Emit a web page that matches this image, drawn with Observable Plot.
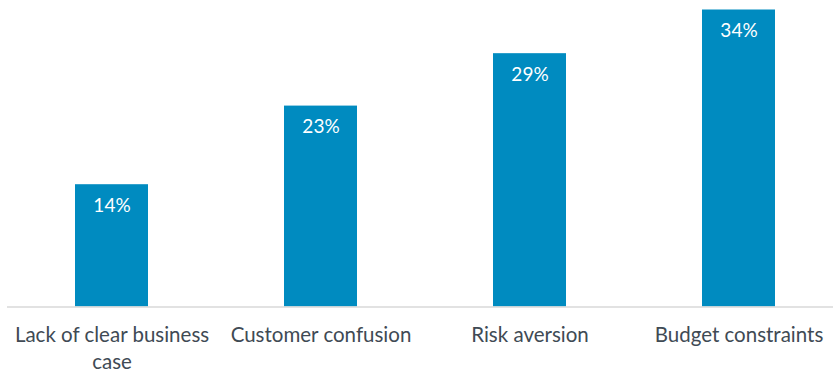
<!DOCTYPE html>
<html>
<head>
<meta charset="utf-8">
<script src="https://cdn.jsdelivr.net/npm/d3@7"></script>
<script src="https://cdn.jsdelivr.net/npm/@observablehq/plot@0.6"></script>
<style>
  html, body { margin: 0; padding: 0; background: #fff; }
  #chart svg { display: block; }
</style>
</head>
<body>
<div id="chart"></div>
<script>
const categories = ["Lack of clear business case", "Customer confusion", "Risk aversion", "Budget constraints"];
const values = [14, 23, 29, 34];
const valueLabels = ["14%", "23%", "29%", "34%"];

const data = categories.map((c, i) => ({cat: c, value: values[i], label: valueLabels[i]}));

const chart = Plot.plot({
  width: 833,
  height: 374,
  marginLeft: 7,
  marginRight: 0,
  marginTop: 0,
  marginBottom: 0,
  style: {fontFamily: "Lato, sans-serif", background: "#fff"},
  x: {domain: categories, range: [7, 843], paddingInner: 0.65, paddingOuter: 0.325, axis: null},
  y: {domain: [0, 34], range: [306.5, 9.5], axis: null},
  marks: [
    Plot.barY(data, {x: "cat", y: "value", fill: "#008bc0"}),
    Plot.ruleY([0], {stroke: "#d9d9d9", strokeWidth: 1.5}),
    Plot.text(data, {x: "cat", y: "value", text: "label", dy: 21, fill: "#ffffff", fontSize: 19}),
    Plot.text(data, {x: "cat", y: 0, text: "cat", dy: 16, lineAnchor: "top", lineWidth: 11.6, lineHeight: 1.3, fontSize: 20.5, fill: "#404a54"})
  ]
});
document.getElementById("chart").appendChild(chart);
</script>
</body>
</html>
